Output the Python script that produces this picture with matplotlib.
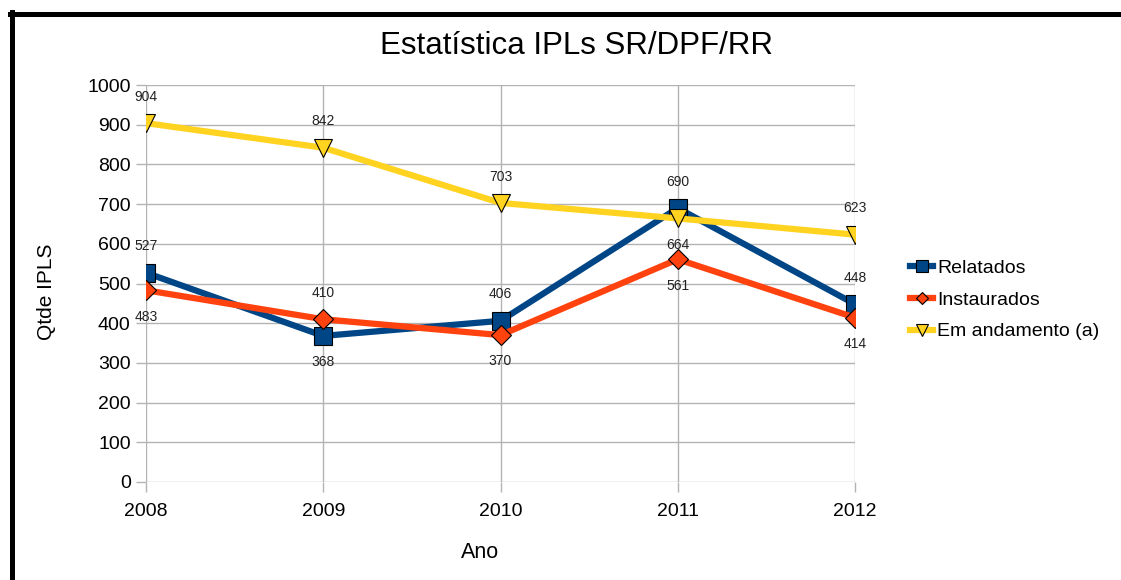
import matplotlib.pyplot as plt
from matplotlib.lines import Line2D

plt.rcParams['font.family'] = ['Liberation Sans', 'DejaVu Sans']

anos = ['2008', '2009', '2010', '2011', '2012']
relatados = [527, 368, 406, 690, 448]
instaurados = [483, 410, 370, 561, 414]
andamento = [904, 842, 703, 664, 623]

# where each data label sits: +1 above the marker, -1 below
pos_rel = [1, -1, 1, 1, 1]
pos_ins = [-1, 1, -1, -1, -1]
pos_and = [1, 1, 1, -1, 1]

fig = plt.figure(figsize=(11.21, 5.80), dpi=100)
ax = fig.add_axes([146/1121, 98/580, (855-146)/1121, (482-85)/580])

x = list(range(len(anos)))
series = [
    (relatados, pos_rel, '#004586', 's', 13, 'Relatados'),
    (instaurados, pos_ins, '#ff420e', 'D', 10, 'Instaurados'),
    (andamento, pos_and, '#ffd320', 'v', 13, 'Em andamento (a)'),
]
for vals, pos, cor, mk, ms, nome in series:
    ax.plot(x, vals, color=cor, lw=4.5, marker=mk, ms=ms, mfc=cor,
            mec='black', mew=0.8, label=nome, zorder=3)
    for xi, v, p in zip(x, vals, pos):
        ax.annotate(str(v), (xi, v), xytext=(0, 19*p), textcoords='offset points',
                    ha='center', va='center', fontsize=10, color='#222222', zorder=4)

ax.set_xlim(0, 4)
ax.set_ylim(0, 1000)
ax.set_yticks(range(0, 1001, 100))
ax.set_xticks(x)
ax.set_xticklabels(anos)
ax.grid(True, color='#b3b3b3', lw=1)
for s in ax.spines.values():
    s.set_visible(False)
ax.tick_params(axis='both', colors='#b3b3b3', length=7, width=1, labelsize=14,
               labelcolor='black', pad=4)
ax.tick_params(axis='x', pad=8)
ax.set_axisbelow(True)

fig.text(576/1121, 1 - 46/580, 'Estatística IPLs SR/DPF/RR', ha='center', va='center', fontsize=22.5)
fig.text(47/1121, 1 - 292/580, 'Qtde IPLS', rotation=90, ha='center', va='center', fontsize=15)
fig.text(480/1121, 1 - 553/580, 'Ano', ha='center', va='center', fontsize=15.5)

ax.legend(loc='center left', bbox_to_anchor=(910/1121, 1 - 300/580),
          bbox_transform=fig.transFigure, frameon=False, fontsize=14,
          handlelength=1.2, handletextpad=0.2, labelspacing=0.72, markerscale=0.65,
          borderpad=0, borderaxespad=0)

# black frame on top and left edge
fig.add_artist(Line2D([10/1121, 1], [1 - 14/580, 1 - 14/580], color='black', lw=3.6,
                      transform=fig.transFigure))
fig.add_artist(Line2D([12/1121, 12/1121], [0, 1 - 12/580], color='black', lw=3.6,
                      transform=fig.transFigure))

fig.savefig('out.png', dpi=100)
